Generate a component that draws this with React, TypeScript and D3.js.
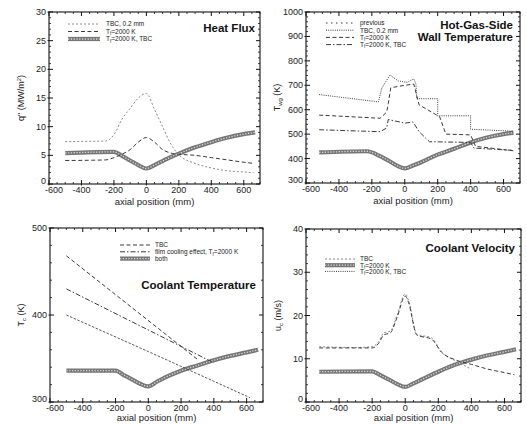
import React from 'react';
import * as d3 from 'd3';

const FONT = "'Liberation Sans', Arial, Helvetica, sans-serif";

// shared x axis
const xTicks = [-600, -400, -200, 0, 200, 400, 600];
const xDomain = [-600, 700];

// Panel 1: Heat flux
const hfTicks = [0, 5, 10, 15, 20, 25, 30];
const hfTbc = [[-500, 7.4], [-250, 7.5], [-200, 8.6], [-150, 11.3], [-100, 13.2], [-50, 15], [0, 15.8], [50, 13], [100, 10], [150, 7], [200, 5.1], [300, 3.6], [400, 2.8], [500, 2.3], [600, 2.1], [660, 2.0]];
const hfFilm = [[-500, 4.1], [-250, 4.2], [-200, 4.6], [-150, 5.2], [-100, 6], [-50, 7.3], [0, 8.1], [50, 7.3], [100, 6], [150, 5.4], [200, 5.2], [300, 5], [400, 4.6], [500, 4.2], [600, 3.8], [660, 3.6]];
const hfBoth = [[-500, 5.4], [-200, 5.6], [-150, 4.9], [-100, 4.1], [-50, 3.3], [0, 2.7], [50, 3.3], [100, 4], [150, 4.7], [200, 5.3], [300, 6.4], [400, 7.3], [500, 8.1], [600, 8.7], [670, 9.0]];

// Panel 2: Hot-gas-side wall temperature
const wtTicks = [300, 400, 500, 600, 700, 800, 900, 1000];
const wtPrev = [[-520, 662], [-160, 632], [-140, 688], [-90, 742], [-40, 718], [15, 712], [55, 726], [68, 705], [72, 645], [200, 645], [200, 575], [400, 575], [400, 520], [660, 512]];
const wtFilm = [[-520, 578], [-150, 565], [-110, 590], [-100, 625], [-85, 690], [0, 700], [55, 705], [87, 620], [212, 571], [250, 500], [400, 497], [430, 450], [660, 432]];
const wtFilmTbc = [[-520, 518], [-150, 510], [-110, 525], [-100, 560], [0, 545], [50, 550], [87, 510], [150, 469], [400, 466], [420, 443], [650, 434]];
const wtTbc = [[-520, 425], [-230, 430], [-150, 410], [-100, 392], [-50, 372], [0, 360], [50, 372], [100, 385], [200, 416], [300, 440], [400, 466], [500, 486], [600, 500], [660, 506]];

// Panel 3: Coolant temperature
const ctTicks = [300, 400, 500];
const ctTbc = [[-500, 468], [300, 349]];
const ctFilm = [[-500, 430], [400, 345]];
const ctBoth = [[-500, 336], [-200, 336], [-150, 331], [-100, 326], [-50, 321], [0, 318], [50, 323], [100, 328], [200, 336], [300, 342], [400, 348], [500, 353], [600, 357], [670, 360]];
const ctNo = [[-500, 400], [0, 358], [620, 305]];

// Panel 4: Coolant velocity
const cvTicks = [0, 10, 20, 30, 40];
const cvTbc = [[-520, 12.8], [-300, 12.6], [-200, 12.8], [-160, 14], [-130, 16], [-90, 16.4], [-50, 20], [0, 25], [20, 23.5], [70, 15.7], [160, 14.8], [220, 11.5], [300, 9.6], [400, 7.6]];
const cvFilm = [[-520, 7.0], [-200, 7.1], [-150, 6.2], [-100, 5.2], [-50, 4.2], [0, 3.5], [50, 4.3], [100, 5.2], [200, 7.0], [300, 8.6], [400, 9.8], [500, 10.8], [600, 11.6], [670, 12.2]];
const cvFilmTbc = [[-520, 12.5], [-200, 12.5], [-160, 13.6], [-130, 15.5], [-90, 16], [-50, 19.5], [0, 24.5], [20, 23], [70, 15.5], [160, 14.5], [220, 11.5], [300, 9.8], [400, 8.7], [500, 7.6], [600, 6.8], [660, 6.3]];

type Kind = 'thick' | 'dot' | 'dash' | 'dashdot' | 'sparse' | 'light' | 'fine';

const strokeStyles: Record<string, { c: string; w: number; dash: string }> = {
  dot: { c: '#3a3a3a', w: 1, dash: '1,1.2' },
  dash: { c: '#3a3a3a', w: 1, dash: '4,2.5' },
  dashdot: { c: '#3a3a3a', w: 1, dash: '5,2,1.5,2' },
  sparse: { c: '#3a3a3a', w: 1, dash: '1.5,3.5' },
  light: { c: '#8a8a8a', w: 1, dash: '2,2' },
  fine: { c: '#444', w: 0.9, dash: '2.5,1.5' },
};

function StyledPath({ d, kind }: { d: string; kind: Kind }) {
  if (kind === 'thick') {
    return (
      <g>
        <path d={d} fill="none" stroke="#767676" strokeWidth={4.2} strokeLinejoin="round" />
        <path d={d} fill="none" stroke="#d8d8d8" strokeWidth={1.3} strokeDasharray="1.3,1.5" />
      </g>
    );
  }
  const s = strokeStyles[kind];
  return <path d={d} fill="none" stroke={s.c} strokeWidth={s.w} strokeDasharray={s.dash} />;
}

type SeriesDef = { data: number[][]; kind: Kind; smooth: boolean };
type LegendDef = { kind: Kind; label: React.ReactNode };

type PanelProps = {
  left: number; right: number; top: number; bottom: number;
  yDomain: number[]; yTicks: number[]; yMinor: number;
  series: SeriesDef[];
  legend: LegendDef[]; legX1: number; legX2: number; legTx: number; legY0: number; legDy: number;
  titles: { text: string; x: number; y: number }[];
  ylabel: React.ReactNode; ylabelX: number; xlabelDy: number;
};

function Panel(p: PanelProps) {
  const x = d3.scaleLinear().domain(xDomain).range([p.left, p.right]);
  const y = d3.scaleLinear().domain(p.yDomain).range([p.bottom, p.top]);
  const xMinor = d3.range(-600, 701, 50).filter((v) => !xTicks.includes(v));
  const yMinor = d3.range(p.yDomain[0], p.yDomain[1] + 1e-9, p.yMinor).filter((v) => !p.yTicks.some((t) => Math.abs(t - v) < 1e-9));
  const axisCol = '#111';
  return (
    <g fontFamily={FONT}>
      {p.series.map((s, i) => {
        const gen = d3.line<number[]>().x((d) => x(d[0])).y((d) => y(d[1])).curve(s.smooth ? d3.curveMonotoneX : d3.curveLinear);
        return <StyledPath key={i} d={gen(s.data) || ''} kind={s.kind} />;
      })}
      <rect x={p.left} y={p.top} width={p.right - p.left} height={p.bottom - p.top} fill="none" stroke={axisCol} strokeWidth={1.1} />
      {xTicks.map((t, i) => (
        <g key={'xt' + t}>
          <line x1={x(t)} x2={x(t)} y1={p.bottom + 1.5} y2={p.bottom - 4} stroke={axisCol} />
          <line x1={x(t)} x2={x(t)} y1={p.top} y2={p.top + 4} stroke={axisCol} />
          <text x={x(t) + (i === 0 ? 5 : 0)} y={p.bottom + 9} fontSize={9} textAnchor="middle" fill="#222">{t}</text>
        </g>
      ))}
      {xMinor.map((t) => (
        <g key={'xm' + t}>
          <line x1={x(t)} x2={x(t)} y1={p.bottom} y2={p.bottom - 2} stroke={axisCol} strokeWidth={0.8} />
          <line x1={x(t)} x2={x(t)} y1={p.top} y2={p.top + 2} stroke={axisCol} strokeWidth={0.8} />
        </g>
      ))}
      {p.yTicks.map((t, i) => (
        <g key={'yt' + t}>
          <line x1={p.left - 1.5} x2={p.left + 4} y1={y(t)} y2={y(t)} stroke={axisCol} />
          <line x1={p.right} x2={p.right - 4} y1={y(t)} y2={y(t)} stroke={axisCol} />
          <text x={p.left - 3} y={y(t) + 3 - (i === 0 ? 3 : 0)} fontSize={9} textAnchor="end" fill="#222">{t}</text>
        </g>
      ))}
      {yMinor.map((t) => (
        <g key={'ym' + t}>
          <line x1={p.left} x2={p.left + 2} y1={y(t)} y2={y(t)} stroke={axisCol} strokeWidth={0.8} />
          <line x1={p.right} x2={p.right - 2} y1={y(t)} y2={y(t)} stroke={axisCol} strokeWidth={0.8} />
        </g>
      ))}
      <text x={(p.left + p.right) / 2} y={p.bottom + p.xlabelDy} fontSize={9.5} textAnchor="middle" fill="#222">axial position (mm)</text>
      <text transform={`translate(${p.ylabelX},${(p.top + p.bottom) / 2}) rotate(-90)`} fontSize={9} textAnchor="middle" fill="#222">{p.ylabel}</text>
      {p.legend.map((l, i) => {
        const ly = p.legY0 + i * p.legDy;
        return (
          <g key={'lg' + i}>
            <StyledPath d={`M${p.legX1},${ly}L${p.legX2},${ly}`} kind={l.kind} />
            <text x={p.legTx} y={ly + 2.3} fontSize={6.5} fill="#222">{l.label}</text>
          </g>
        );
      })}
      {p.titles.map((t, i) => (
        <text key={'ti' + i} x={t.x} y={t.y} fontSize={11.5} fontWeight="bold" textAnchor="end" fill="#111">{t.text}</text>
      ))}
    </g>
  );
}

const Tf = (extra: string) => (
  <>T<tspan fontSize={4.5} dy={1.5}>f</tspan><tspan dy={-1.5}>{extra}</tspan></>
);

export default function App() {
  return (
    <svg width={527} height={424} style={{ position: 'absolute', left: 0, top: 0, background: '#fff' }}>
      <Panel
        left={49} right={260} top={12} bottom={184}
        yDomain={[0, 30]} yTicks={hfTicks} yMinor={1}
        series={[
          { data: hfBoth, kind: 'thick', smooth: true },
          { data: hfFilm, kind: 'dash', smooth: true },
          { data: hfTbc, kind: 'light', smooth: true },
        ]}
        legend={[
          { kind: 'light', label: 'TBC, 0.2 mm' },
          { kind: 'dash', label: Tf('=2000 K') },
          { kind: 'thick', label: Tf('=2000 K, TBC') },
        ]}
        legX1={68} legX2={100} legTx={106} legY0={24} legDy={7.5}
        titles={[{ text: 'Heat Flux', x: 255, y: 32 }]}
        ylabel={<>q" (MW/m<tspan fontSize={6} dy={-3}>2</tspan><tspan dy={3}>)</tspan></>}
        ylabelX={24} xlabelDy={21}
      />
      <Panel
        left={306} right={520} top={12} bottom={183}
        yDomain={[300, 1000]} yTicks={wtTicks} yMinor={20}
        series={[
          { data: wtTbc, kind: 'thick', smooth: true },
          { data: wtPrev, kind: 'dot', smooth: false },
          { data: wtFilm, kind: 'dash', smooth: false },
          { data: wtFilmTbc, kind: 'dashdot', smooth: false },
        ]}
        legend={[
          { kind: 'sparse', label: 'previous' },
          { kind: 'dot', label: 'TBC, 0.2 mm' },
          { kind: 'dash', label: Tf('=2000 K') },
          { kind: 'dashdot', label: Tf('=2000 K, TBC') },
        ]}
        legX1={326} legX2={354} legTx={360} legY0={23} legDy={7.2}
        titles={[{ text: 'Hot-Gas-Side', x: 513, y: 29 }, { text: 'Wall Temperature', x: 513, y: 41 }]}
        ylabel={<>T<tspan fontSize={6} dy={2}>wg</tspan><tspan dy={-2}> (K)</tspan></>}
        ylabelX={280} xlabelDy={21}
      />
      <Panel
        left={50} right={263} top={228} bottom={402}
        yDomain={[300, 500]} yTicks={ctTicks} yMinor={20}
        series={[
          { data: ctBoth, kind: 'thick', smooth: true },
          { data: ctTbc, kind: 'dash', smooth: false },
          { data: ctFilm, kind: 'dashdot', smooth: false },
          { data: ctNo, kind: 'fine', smooth: false },
        ]}
        legend={[
          { kind: 'dash', label: 'TBC' },
          { kind: 'dashdot', label: <>film cooling effect, {Tf('=2000 K')}</> },
          { kind: 'thick', label: 'both' },
        ]}
        legX1={120} legX2={150} legTx={155} legY0={245} legDy={6.8}
        titles={[{ text: 'Coolant Temperature', x: 256, y: 289 }]}
        ylabel={<>T<tspan fontSize={6} dy={2}>c</tspan><tspan dy={-2}> (K)</tspan></>}
        ylabelX={24} xlabelDy={18.5}
      />
      <Panel
        left={306} right={521} top={229} bottom={402}
        yDomain={[0, 40]} yTicks={cvTicks} yMinor={2}
        series={[
          { data: cvFilm, kind: 'thick', smooth: true },
          { data: cvTbc, kind: 'light', smooth: true },
          { data: cvFilmTbc, kind: 'dash', smooth: true },
        ]}
        legend={[
          { kind: 'light', label: 'TBC' },
          { kind: 'thick', label: Tf('=2000 K') },
          { kind: 'dot', label: Tf('=2000 K, TBC') },
        ]}
        legX1={325} legX2={355} legTx={360} legY0={259} legDy={6.2}
        titles={[{ text: 'Coolant Velocity', x: 515, y: 252 }]}
        ylabel={<>u<tspan fontSize={6} dy={2}>c</tspan><tspan dy={-2}> (m/s)</tspan></>}
        ylabelX={281} xlabelDy={18.5}
      />
    </svg>
  );
}
